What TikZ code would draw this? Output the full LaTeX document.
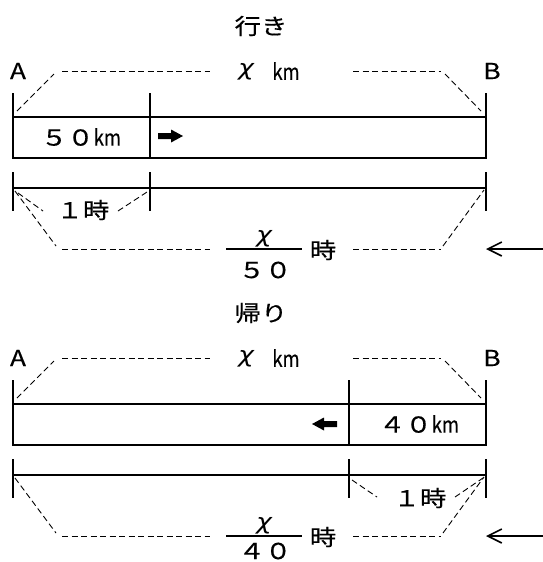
\documentclass[tikz,border=0pt]{standalone}
\usepackage{fontspec}
\setmainfont{Noto Sans CJK JP}[FakeBold=0.4]
\newfontfamily\chifont[FakeSlant=0.2]{DejaVu Sans}
\usetikzlibrary{arrows.meta}
\newcommand\kmunit{\scalebox{0.7}[1]{km}}
\tikzset{
  solid line/.style={line width=2pt, line cap=rect},
  guide/.style={line width=0.9pt, dash pattern=on 6pt off 3.5pt},
  lbl/.style={inner sep=0pt, font=\fontsize{22}{26}\selectfont, xscale=1.2, transform shape},
  backarrow/.style={line width=1.6pt, -{Straight Barb[length=14pt,width=14pt,line width=1.6pt]}},
  fat/.style={fill=black}
}
\begin{document}
\begin{tikzpicture}[x=1pt,y=-1pt]
\useasboundingbox (0,0) rectangle (543,562);
\foreach \dy/\go/\tt/\num/\sec/\dd in {0/1/行き/５０/a/0, 287/0/帰り/４０/b/6}{
  \begin{scope}[yshift=-\dy pt]
  \pgfmathsetmacro{\dv}{\go==1 ? 150 : 349}
  % title
  \node[lbl] (title\sec) at (261,26) {\tt};
  \node[lbl] (A\sec) at (18,71) {A};
  \node[lbl] (B\sec) at (492,71) {B};
  \node[lbl] (chiD\sec) at (245,72) {\chifont χ};
  \node[lbl] (km\sec) at (286,71) {\kmunit};
  % distance bar
  \draw[solid line] (13,93.5) -- (13,158) -- (486,158) -- (486,93.5);
  \draw[solid line] (13,117) -- (486,117);
  \draw[solid line] (\dv,93.5) -- (\dv,158);
  % time bar
  \draw[solid line] (13,173) -- (13,210);
  \draw[solid line] (\dv,173) -- (\dv,210);
  \draw[solid line] (486,173) -- (486,210);
  \draw[solid line] (13,188) -- (486,188);
  % top guides
  \draw[guide] (17,111) -- (54,74);
  \draw[guide] (62,71) -- (210,71);
  \draw[guide] (353,71) -- (441,71);
  \draw[guide] (445,74) -- (481,111);
  % bottom guides
  \draw[guide] (15,191) -- (56,246);
  \draw[guide] (62,249) -- (210,249);
  \draw[guide] (353,249) -- (441,249);
  \draw[guide] (443,246) -- (484,190);
  % fraction
  \draw[line width=1.6pt] (226,249) -- (302,249);
  \node[lbl] (chi\sec) at (263,239) {\chifont χ};
  \node[lbl] (den\sec) at (265,270-\dd) {\num};
  \node[lbl] (hr\sec) at (323,250) {時};
  \draw[backarrow] (543,249) -- (486,249);
  \end{scope}
}
% trip out specifics
\node[lbl] (speedA) at (81,137) {５０\kmunit};
\fill[fat] (158,133) -- (171,133) -- (171,129.5) -- (183,136) -- (171,142.5) -- (171,139) -- (158,139) -- cycle;
\node[lbl] (oneA) at (83,210) {１時};
\draw[guide] (18,193) -- (43,211);
\draw[guide] (118,211) -- (147,192);
% return specifics
\node[lbl] (speedB) at (419,424) {４０\kmunit};
\fill[fat] (337,421) -- (324,421) -- (324,417.5) -- (312,424) -- (324,430.5) -- (324,427) -- (337,427) -- cycle;
\node[lbl] (oneB) at (420,498) {１時};
\draw[guide] (352,480) -- (377,497);
\draw[guide] (455,497) -- (483,478);
\end{tikzpicture}
\end{document}
